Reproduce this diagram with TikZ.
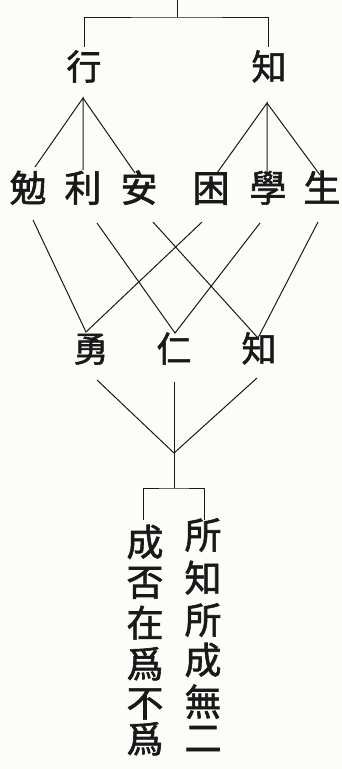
\documentclass[tikz,border=0pt]{standalone}
\usepackage{fontspec}
\newfontfamily\cjk[FakeBold=1.6]{Noto Sans CJK TC}
\definecolor{paper}{RGB}{252,252,248}
\definecolor{ink}{RGB}{25,25,25}
\begin{document}
\begin{tikzpicture}[x=1pt,y=-1pt,
  ch/.style={font=\cjk\fontsize{37}{37}\selectfont, text=ink, inner sep=0pt,
    text height=0.88em, text depth=0.12em, anchor=center},
  chs/.style={ch, font=\cjk\fontsize{35}{35}\selectfont},
  ln/.style={draw=ink, line width=1pt}]
\fill[paper] (0,0) rectangle (342,769);
\useasboundingbox (0,0) rectangle (342,769);
% row 1
\node[chs] (xing) at (84,76) {行};
\node[chs] (zhia) at (269,76) {知};
% row 2
\node[ch] (mian) at (28,198) {勉};
\node[ch] (li)   at (83,198) {利};
\node[ch] (an)   at (139,198) {安};
\node[ch] (kun)  at (211,198) {困};
\node[ch] (xue)  at (268,198) {學};
\node[ch] (sheng) at (322,198) {生};
% row 3
\node[chs] (yong) at (91,358) {勇};
\node[chs] (ren)  at (174,358) {仁};
\node[chs] (zhib) at (259,358) {知};
% columns
\node[ch] (l1) at (145,552) {成};
\node[ch] (l2) at (145,592) {否};
\node[ch] (l3) at (145,633) {在};
\node[ch] (l4) at (145,674) {爲};
\node[ch] (l5) at (145,713) {不};
\node[ch] (l6) at (145,749) {爲};
\node[ch] (r1) at (203,545) {所};
\node[ch] (r2) at (203,588) {知};
\node[ch] (r3) at (203,630) {所};
\node[ch] (r4) at (203,670) {成};
\node[ch] (r5) at (203,712) {無};
\node[ch] (r6) at (203,748) {二};
% coordinates
\coordinate (top) at (177,0);
\coordinate (bar) at (177,17);
\coordinate (J) at (174,453);
\coordinate (B) at (174,488);
% top bracket
\draw[ln] (top) -- (bar);
\draw[ln] ([shift={(0,-29)}]xing.center) |- (bar) -| ([shift={(-1,-29)}]zhia.center);
% row1 -> row2
\draw[ln] ([shift={(7,-31)}]mian.center) -- ([shift={(-1,22)}]xing.center) -- ([shift={(0,-28)}]li.center);
\draw[ln] ([shift={(-1,22)}]xing.center) -- ([shift={(-4,-25)}]an.center);
\draw[ln] ([shift={(6,-25)}]kun.center) -- ([shift={(-2,27)}]zhia.center) -- ([shift={(-1,-25)}]xue.center);
\draw[ln] ([shift={(-2,27)}]zhia.center) -- ([shift={(-2,-23)}]sheng.center);
% row2 -> row3
\draw[ln] ([shift={(5,22)}]mian.center) -- ([shift={(-5,-26)}]yong.center) -- ([shift={(-9,24)}]kun.center);
\draw[ln] ([shift={(14,25)}]li.center) -- ([shift={(1,-25)}]ren.center) -- ([shift={(-8,25)}]xue.center);
\draw[ln] ([shift={(14,24)}]an.center) -- ([shift={(-1,-20)}]zhib.center) -- ([shift={(-4,24)}]sheng.center);
% row3 -> junction
\draw[ln] ([shift={(6,22)}]yong.center) -- (J);
\draw[ln] ([shift={(0,24)}]ren.center) -- (J);
\draw[ln] ([shift={(-2,20)}]zhib.center) -- (J);
\draw[ln] (J) -- (B);
\draw[ln] ([shift={(-2,-32)}]l1.center) |- (B) -| ([shift={(1,-25)}]r1.center);
\end{tikzpicture}
\end{document}
